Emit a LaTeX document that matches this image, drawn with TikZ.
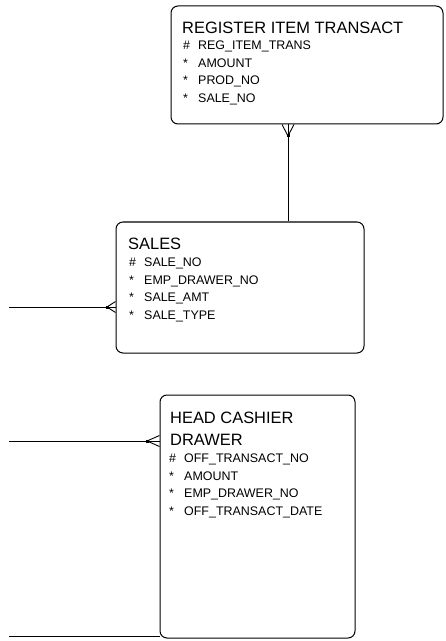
\documentclass[tikz,border=0pt]{standalone}
\usepackage{fontspec}
\setmainfont{Liberation Sans}
\newcommand{\attr}[2]{\makebox[15bp][l]{#1}#2}

\begin{document}
\begin{tikzpicture}[x=1bp,y=-1bp,
 entity/.style={draw=black,rectangle,rounded corners=7bp,line width=1bp,inner sep=0pt},
 title/.style={anchor=north west,inner sep=0pt,align=left,font=\fontsize{16.5}{22}\selectfont},
 attrs/.style={anchor=north west,inner sep=0pt,align=left,font=\fontsize{12.5}{17.5}\selectfont},
 rel/.style={black,line width=0.9bp},
 foot/.style={fill=black}]
\useasboundingbox (0,0) rectangle (446,641);
\node[entity,minimum width=272bp,minimum height=118bp] (reg) at (307,65) {};
\node[entity,minimum width=248bp,minimum height=131bp] (sales) at (240,287.5) {};
\node[entity,minimum width=195bp,minimum height=243bp] (head) at (257.5,516.5) {};
\node[title] (regtitle) at (182,22.2) {REGISTER ITEM TRANSACT};
\node[attrs] (regattrs) at (183,41) {\attr{\#}{REG\_ITEM\_TRANS}\\\attr{*}{AMOUNT}\\\attr{*}{PROD\_NO}\\\attr{*}{SALE\_NO}};
\node[title] (salestitle) at (128,238.2) {SALES};
\node[attrs] (salesattrs) at (129,258) {\attr{\#}{SALE\_NO}\\\attr{*}{EMP\_DRAWER\_NO}\\\attr{*}{SALE\_AMT}\\\attr{*}{SALE\_TYPE}};
\node[title] (headtitle) at (170,412.2) {HEAD CASHIER\\DRAWER};
\node[attrs] (headattrs) at (169,454) {\attr{\#}{OFF\_TRANSACT\_NO}\\\attr{*}{AMOUNT}\\\attr{*}{EMP\_DRAWER\_NO}\\\attr{*}{OFF\_TRANSACT\_DATE}};
% connection points
\coordinate (rdot) at (288,136);
\coordinate (sdot) at (107,307);
\coordinate (hdot) at (147,441);
\coordinate (sfree) at (9,307);
\coordinate (hfree) at (9,441);
\coordinate (bfree) at (9,636);
% register item transact -- sales
\draw[rel] (rdot) -- (rdot |- sales.north);
\draw[rel] ([xshift=-6bp]rdot |- reg.south) -- (rdot) -- ([xshift=6bp]rdot |- reg.south);
\draw[rel] (rdot) -- (rdot |- reg.south);
\fill[foot] ([shift={(-1.5bp,-1.5bp)}]rdot) rectangle ([shift={(1.5bp,1.5bp)}]rdot);
% into sales
\draw[rel] (sfree) -- (sdot);
\draw[rel] ([yshift=5.5bp]sdot -| sales.west) -- (sdot) -- ([yshift=-5.5bp]sdot -| sales.west);
\draw[rel] (sdot) -- (sdot -| sales.west);
\fill[foot] ([shift={(-1.5bp,-1.5bp)}]sdot) rectangle ([shift={(1.5bp,1.5bp)}]sdot);
% into head cashier drawer
\draw[rel] (hfree) -- (hdot);
\draw[rel] ([yshift=5.5bp]hdot -| head.west) -- (hdot) -- ([yshift=-5.5bp]hdot -| head.west);
\draw[rel] (hdot) -- (hdot -| head.west);
\fill[foot] ([shift={(-1.5bp,-1.5bp)}]hdot) rectangle ([shift={(1.5bp,1.5bp)}]hdot);
\draw[rel] (bfree) -- (bfree -| head.west);
\end{tikzpicture}
\end{document}
